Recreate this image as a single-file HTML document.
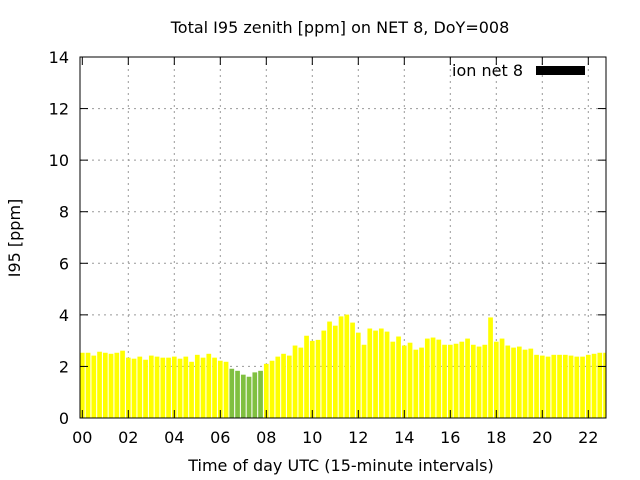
<!DOCTYPE html>
<html><head><meta charset="utf-8"><style>
body{margin:0;background:#fff}
svg{display:block;font-family:"DejaVu Sans","Liberation Sans",sans-serif}
</style></head><body>
<svg id="chart" width="640" height="480" xmlns="http://www.w3.org/2000/svg">
<rect width="640" height="480" fill="#fff"/>
<text x="340" y="33" font-size="16" text-anchor="middle">Total I95 zenith [ppm] on NET 8, DoY=008</text>
<g id="grid"></g>
<g id="bars"></g>
<rect x="80" y="57" width="526" height="361" fill="none" stroke="#000" stroke-width="1"/>
<g id="ticks"></g>
<text transform="translate(20,238) rotate(-90)" font-size="16" text-anchor="middle">I95 [ppm]</text>
<text x="341" y="471" font-size="16" text-anchor="middle">Time of day UTC (15-minute intervals)</text>
<g>
<text x="523" y="76" font-size="16" text-anchor="end">ion net 8</text>
<rect x="536" y="66" width="49" height="9" fill="#000"/>
</g>
</svg>
<script>
const values=[2.53,2.53,2.42,2.57,2.53,2.49,2.53,2.61,2.34,2.30,2.38,2.26,2.42,2.38,2.34,2.34,2.38,2.30,2.38,2.18,2.45,2.34,2.49,2.34,2.22,2.18,
1.91,1.83,1.68,1.60,1.77,1.83,
2.10,2.22,2.38,2.49,2.42,2.81,2.73,3.19,2.99,3.03,3.39,3.74,3.58,3.94,4.01,3.70,3.31,2.84,3.47,3.39,3.47,3.35,2.96,3.16,2.81,2.92,2.65,2.73,3.08,
3.12,3.04,2.84,2.84,2.88,2.96,3.08,2.84,2.77,2.84,3.90,2.96,3.08,2.81,2.73,2.77,2.65,2.69,2.45,2.42,2.38,2.45,2.45,2.45,2.42,2.38,2.38,2.45,2.49,2.53,2.53];
const flagged=[26,27,28,29,30,31];
const yTicks=[0,2,4,6,8,10,12,14];
const xTicks=["00","02","04","06","08","10","12","14","16","18","20","22"];
const NS="http://www.w3.org/2000/svg";
const L=80,R=606,T=57,B=418;
const xs=h=>82.3+h*23;
const ys=v=>B-(v/14)*(B-T);
function mk(tag,at,parent){const e=document.createElementNS(NS,tag);for(const k in at)e.setAttribute(k,at[k]);parent.appendChild(e);return e;}
const grid=document.getElementById('grid'),bars=document.getElementById('bars'),ticks=document.getElementById('ticks');
yTicks.forEach(v=>{
 const y=ys(v);
 if(v>0&&v<14){const g=mk('line',{x1:L,x2:R,y1:y,y2:y,stroke:'#999','stroke-dasharray':'2,4'},grid);
 
 }
 const t1=mk('line',{x1:L,x2:L+8,y1:y,y2:y,stroke:'#000'},ticks);
 
 
 const t2=mk('line',{x1:R,x2:R-8,y1:y,y2:y,stroke:'#000'},ticks);
 
 
 const l=mk('text',{x:L-11,y:y+6,'font-size':16,'text-anchor':'end'},ticks);l.textContent=v;
 
 
});
xTicks.forEach((s,i)=>{
 const x=xs(i*2);
 if(i>0){const g=mk('line',{x1:x,x2:x,y1:T,y2:B,stroke:'#999','stroke-dasharray':'2,4'},grid);
 
 }
 const t1=mk('line',{x1:x,x2:x,y1:B,y2:B-8,stroke:'#000'},ticks);
 
 
 const t2=mk('line',{x1:x,x2:x,y1:T,y2:T+8,stroke:'#000'},ticks);
 
 
 const l=mk('text',{x:x,y:443,'font-size':16,'text-anchor':'middle'},ticks);l.textContent=s;
 
 
});
values.forEach((v,i)=>{
 const c=xs(i*0.25),w=4.7;
 let x0=Math.max(L,c-w/2),x1=Math.min(R,c+w/2);
 if(x1<=x0)return;
 const b=mk('rect',{x:x0,y:ys(v),width:x1-x0,height:B-ys(v),fill:flagged.includes(i)?'#80c040':'#ffff00'},bars);
 
 
});
</script>
</body></html>
